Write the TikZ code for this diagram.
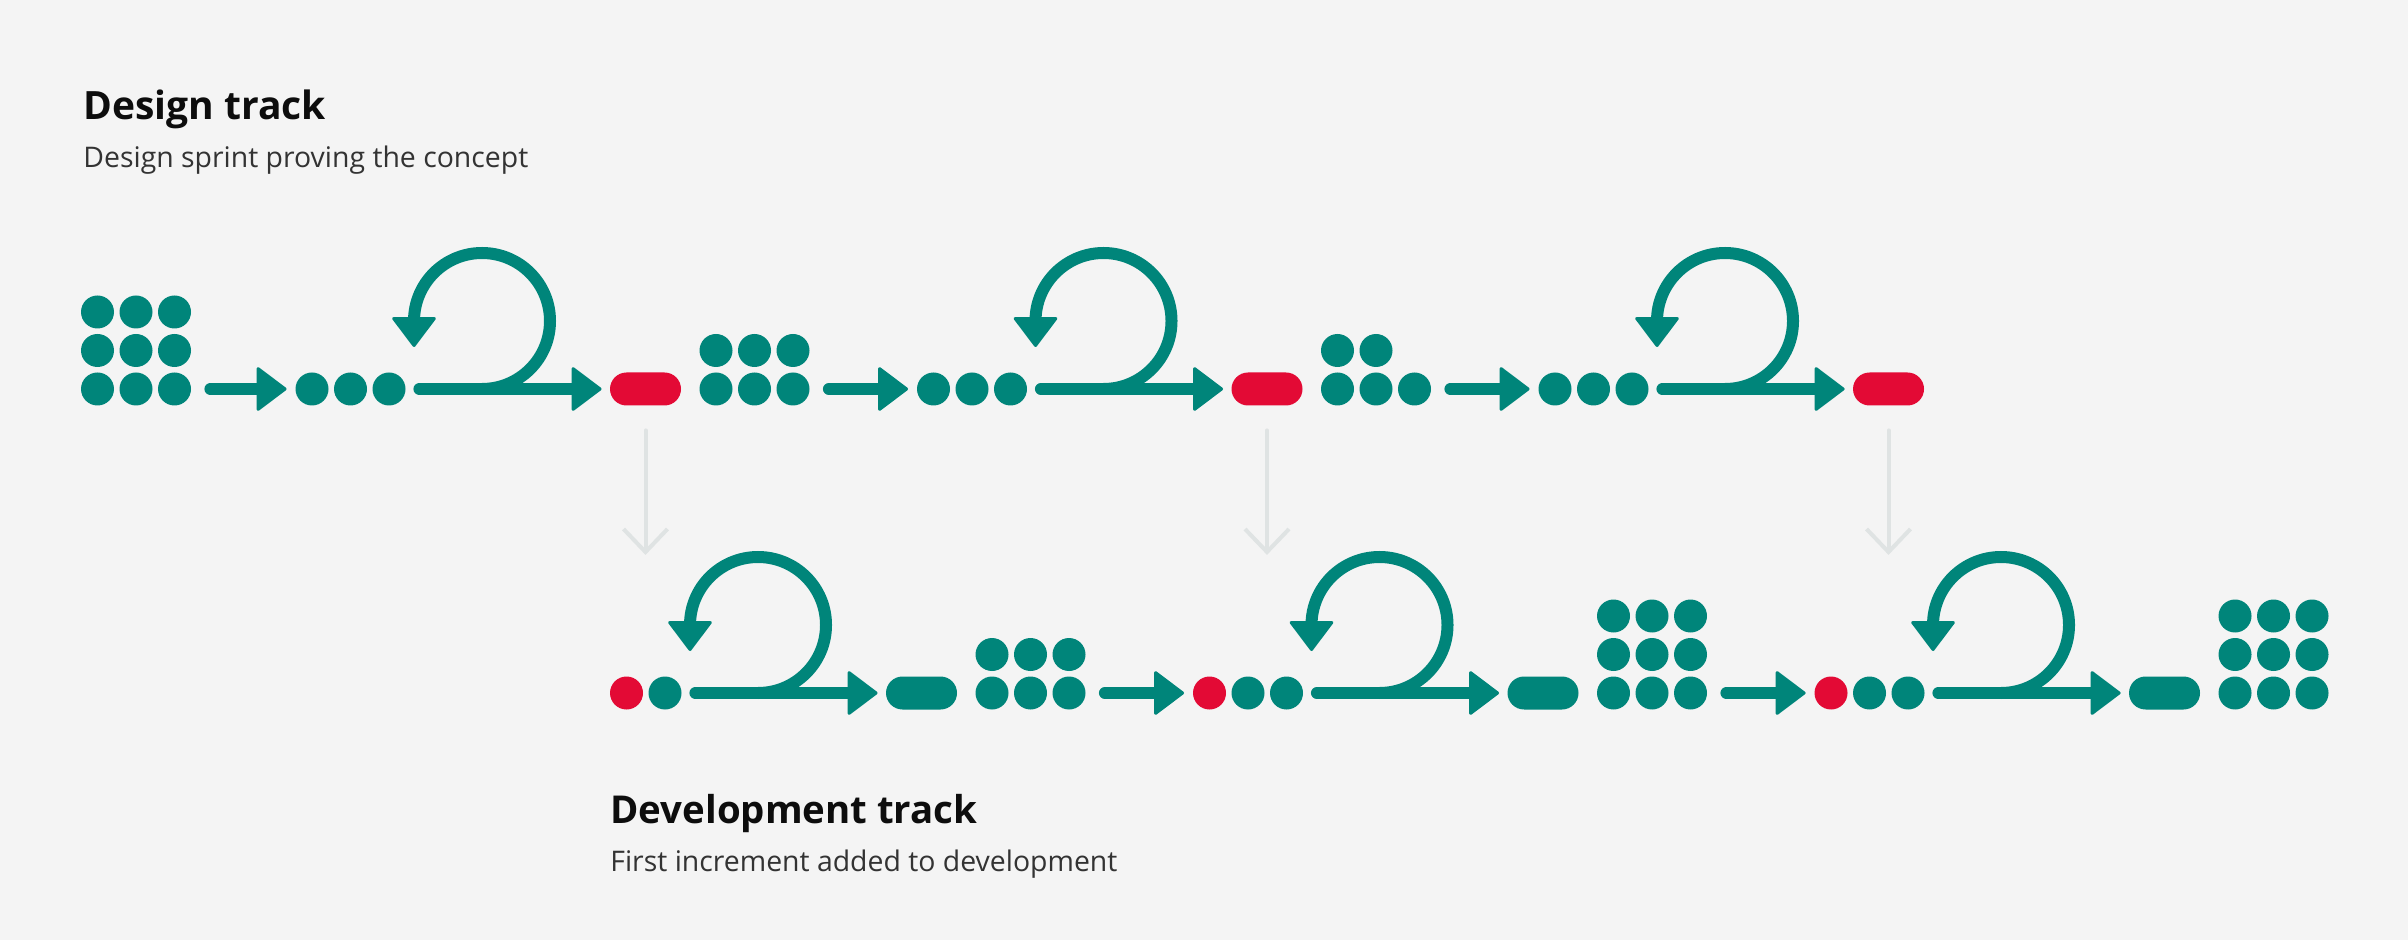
\documentclass[tikz,border=0pt]{standalone}
\usepackage{fontspec}
\setmainfont{Open Sans}
\usetikzlibrary{arrows.meta}
\definecolor{tealc}{HTML}{00857A}
\definecolor{redc}{HTML}{E30A35}
\definecolor{bgc}{HTML}{F4F4F4}
\definecolor{grayc}{HTML}{DFE3E3}
\definecolor{subc}{HTML}{333333}
\definecolor{titc}{HTML}{0D0D0D}
\begin{document}
\begin{tikzpicture}[x=0.5pt,y=-0.5pt,
  dot/.style={circle,fill=tealc,inner sep=0pt,minimum size=16.5pt},
  rdot/.style={dot,fill=redc},
  pill/.style={rectangle,rounded corners=8.25pt,fill=redc,inner sep=0pt,minimum width=35.5pt,minimum height=16.5pt},
  tpill/.style={pill,fill=tealc},
  tip/.style={-{Triangle[length=15.5pt,width=23pt,line width=1.5pt,round]}},
  flow/.style={draw=tealc,line width=6pt,line cap=round,tip},
  loopline/.style={draw=tealc,line width=6pt,tip},
  down/.style={draw=grayc,line width=2pt,line cap=round,-{Straight Barb[length=11.5pt,width=22pt]}},
  title/.style={anchor=base west,inner sep=0pt,text=titc,font=\bfseries\fontsize{19.5}{23}\selectfont},
  sub/.style={anchor=base west,inner sep=0pt,text=subc,font=\fontsize{14.2}{17}\selectfont}
]
\fill[bgc] (0,0) rectangle (2408,940);
\useasboundingbox (0,0) rectangle (2408,940);

% texts
\node[title] (t1) at (83,120) {Design track};
\node[sub] (t2) at (83,168) {Design sprint proving the concept};
\node[title,font=\bfseries\fontsize{19.2}{23}\selectfont] (t3) at (610,823) {Development track};
\node[sub] (t4) at (610,871) {First increment added to development};

% ---------- design track grids ----------
\foreach \r/\y in {1/312,2/350.5,3/389}
  \foreach \c/\x in {1/97.5,2/136,3/174.5}
    \node[dot] (ga-\r-\c) at (\x,\y) {};
\foreach \r/\y in {2/350.5,3/389}
  \foreach \c/\x in {1/716,2/754.5,3/793}
    \node[dot] (gb-\r-\c) at (\x,\y) {};
\node[dot] (gc-2-1) at (1337.5,350.5) {};
\node[dot] (gc-2-2) at (1376,350.5) {};
\foreach \c/\x in {1/1337.5,2/1376,3/1414.5}
  \node[dot] (gc-3-\c) at (\x,389) {};

% ---------- design track sections ----------
\foreach \i in {0,1,2}{
  \pgfmathsetmacro\s{\i*621.5}
  \node[dot] (dd\i-1) at (312+\s,389) {};
  \node[dot] (dd\i-2) at (350.5+\s,389) {};
  \node[dot] (dd\i-3) at (389+\s,389) {};
  \node[pill] (dp\i) at (645.5+\s,389) {};
  \coordinate (lp\i) at (482+\s,389);
  \draw[flow] ([xshift=6.75pt]dd\i-3.east) -- ([xshift=-4pt]dp\i.west);
  \draw[loopline] (lp\i) arc[start angle=90,end angle=-180,radius=68] -- ++(0,26);
  \coordinate (ge\i) at ([yshift=-74.5pt]dp\i.south);
  \draw[down] ([yshift=-12.25pt]dp\i.south) -- (ge\i);
}
\draw[flow] ([xshift=9.5pt]ga-3-3.east) -- ([xshift=-4.25pt]dd0-1.west);
\draw[flow] ([xshift=9.5pt]gb-3-3.east) -- ([xshift=-4.25pt]dd1-1.west);
\draw[flow] ([xshift=9.5pt]gc-3-3.east) -- ([xshift=-4.25pt]dd2-1.west);

% ---------- development track grids ----------
\foreach \r/\y in {2/654.5,3/693}
  \foreach \c/\x in {1/992,2/1030.5,3/1069}
    \node[dot] (ha-\r-\c) at (\x,\y) {};
\foreach \r/\y in {1/616,2/654.5,3/693}
  \foreach \c/\x in {1/1613.5,2/1652,3/1690.5}
    \node[dot] (hb-\r-\c) at (\x,\y) {};
\foreach \r/\y in {1/616,2/654.5,3/693}
  \foreach \c/\x in {1/2235,2/2273.5,3/2312}
    \node[dot] (hc-\r-\c) at (\x,\y) {};

% ---------- development track sections ----------
\node[rdot] (dv0-2) at (626.5,693) {};
\node[dot] (dv0-3) at (665,693) {};
\foreach \i in {1,2}{
  \pgfmathsetmacro\s{276+\i*621.5}
  \node[rdot] (dv\i-1) at (312+\s,693) {};
  \node[dot] (dv\i-2) at (350.5+\s,693) {};
  \node[dot] (dv\i-3) at (389+\s,693) {};
}
\foreach \i in {0,1,2}{
  \pgfmathsetmacro\s{276+\i*621.5}
  \node[tpill] (vp\i) at (645.5+\s,693) {};
  \coordinate (lq\i) at (482+\s,693);
  \draw[flow] ([xshift=6.75pt]dv\i-3.east) -- ([xshift=-4pt]vp\i.west);
  \draw[loopline] (lq\i) arc[start angle=90,end angle=-180,radius=68] -- ++(0,26);
}
\draw[flow] ([xshift=9.5pt]ha-3-3.east) -- ([xshift=-4.25pt]dv1-1.west);
\draw[flow] ([xshift=9.5pt]hb-3-3.east) -- ([xshift=-4.25pt]dv2-1.west);
\end{tikzpicture}
\end{document}
